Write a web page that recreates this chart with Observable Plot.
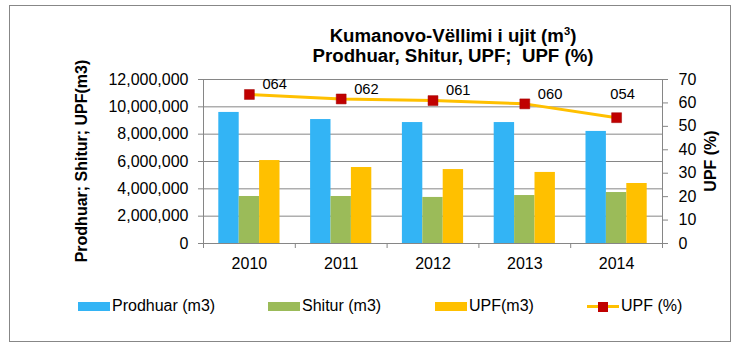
<!DOCTYPE html>
<html>
<head>
<meta charset="utf-8">
<script src="https://cdn.jsdelivr.net/npm/d3@7"></script>
<script src="https://cdn.jsdelivr.net/npm/@observablehq/plot@0.6"></script>
<style>
  html, body { margin: 0; padding: 0; background: #fff; }
  #wrap { position: relative; width: 749px; height: 352px; overflow: hidden; font-family: "Liberation Sans", Arial, sans-serif; color: #000; }
  #wrap svg { position: absolute; left: 0; top: 0; }
  .abs { position: absolute; white-space: pre; }
  #frame { left: 9px; top: 5px; width: 720px; height: 335px; border: 1px solid #878787; }
  #title { left: 153px; width: 600px; top: 26px; text-align: center; font-weight: bold; font-size: 18.67px; line-height: 20px; }
  #title sup { font-size: 0.6em; line-height: 0; vertical-align: 0.65em; }
  .ytitle { font-weight: bold; font-size: 16px; line-height: 18px; transform: translate(-50%, -50%) rotate(-90deg); }
  .sw { position: absolute; height: 9px; width: 32px; }
  .lt { position: absolute; font-size: 16px; line-height: 20px; white-space: pre; }
</style>
</head>
<body>
<div id="wrap"></div>
<script>
// ---- data ----
const years = ["2010", "2011", "2012", "2013", "2014"];
const prodhuar = [9590000, 9070000, 8850000, 8850000, 8200000];
const shitur = [3440000, 3440000, 3370000, 3510000, 3730000];
const upfM3 = [6070000, 5560000, 5410000, 5200000, 4390000];
const upfPct = [63.6, 61.7, 61.0, 59.6, 53.7];
const seriesNames = ["Prodhuar (m3)", "Shitur (m3)", "UPF(m3)"];
const seriesColors = ["#33B4F5", "#9BBB59", "#FFC000"];
const lineName = "UPF (%)";
const lineColor = "#FFC000";
const markerColor = "#C00000";
const leftTicks = [0, 2000000, 4000000, 6000000, 8000000, 10000000, 12000000];
const rightTicks = [0, 10, 20, 30, 40, 50, 60, 70];
const titleLine1 = "Kumanovo-Vëllimi i ujit (m<sup>3</sup>)";
const titleLine2 = "Prodhuar, Shitur, UPF;  UPF (%)";
const leftAxisTitle = "Prodhuar; Shitur; UPF(m3)";
const rightAxisTitle = "UPF (%)";

// ---- build tables ----
const Y_MAX = d3.max(leftTicks), P_MAX = d3.max(rightTicks);
const toLeft = p => p * Y_MAX / P_MAX;
const bars = [];
[prodhuar, shitur, upfM3].forEach((vals, k) =>
  vals.forEach((v, i) => bars.push({ i, k, series: seriesNames[k], value: v })));
const pts = years.map((y, i) => ({ i, year: y, pct: upfPct[i] }));
const nS = seriesNames.length;
const groupStart = 1 / 6, barW = (2 / 3) / nS;
const gridColor = "#868686";
const fmtPct = v => String(Math.round(v)).padStart(3, "0");
const lastI = years.length - 1;

const chart = Plot.plot({
  width: 749, height: 352,
  marginLeft: 203, marginRight: 87, marginTop: 79, marginBottom: 109,
  x: { domain: [0, years.length], axis: null },
  y: { domain: [0, Y_MAX], axis: null },
  color: { domain: seriesNames, range: seriesColors },
  style: { fontFamily: "'Liberation Sans', Arial, sans-serif", fontSize: "16px", color: "#000", background: "transparent" },
  marks: [
    Plot.gridY({ ticks: leftTicks, stroke: gridColor, strokeOpacity: 1 }),
    Plot.rectY(bars, {
      x1: d => d.i + groupStart + d.k * barW,
      x2: d => d.i + groupStart + (d.k + 1) * barW,
      y1: 0, y2: "value", fill: "series"
    }),
    Plot.ruleX([0, years.length], { stroke: gridColor }),
    Plot.ruleY([0], { stroke: gridColor }),
    Plot.axisY({ anchor: "left", ticks: leftTicks, tickFormat: d3.format(","), tickSize: 5, tickPadding: 10, label: null, stroke: gridColor, fill: "#000" }),
    Plot.axisY({ anchor: "right", ticks: rightTicks.map(toLeft), tickFormat: d => String(Math.round(d * P_MAX / Y_MAX)), tickSize: 5, tickPadding: 11, label: null, stroke: gridColor, fill: "#000" }),
    Plot.axisX({ ticks: d3.range(years.length + 1), tickFormat: () => "", tickSize: 5, label: null, stroke: gridColor }),
    Plot.axisX({ ticks: years.map((_, i) => i + 0.5), tickFormat: v => years[Math.floor(v)], tickSize: 0, tickPadding: 14, label: null, fill: "#000" }),
    Plot.line(pts, { x: d => d.i + 0.5, y: d => toLeft(d.pct), stroke: lineColor, strokeWidth: 3 }),
    Plot.dot(pts, { x: d => d.i + 0.5, y: d => toLeft(d.pct), symbol: "square", r: 5.6, fill: markerColor, stroke: "#A00000", strokeWidth: 0.5 }),
    Plot.text(pts.filter(d => d.i !== lastI), { x: d => d.i + 0.5, y: d => toLeft(d.pct), text: d => fmtPct(d.pct), dx: 13, dy: -10, textAnchor: "start", fontSize: 14.7, fill: "#000" }),
    Plot.text(pts.filter(d => d.i === lastI), { x: d => d.i + 0.5, y: d => toLeft(d.pct), text: d => fmtPct(d.pct), dx: 6, dy: -23, textAnchor: "middle", fontSize: 14.7, fill: "#000" })
  ]
});

const wrap = document.getElementById("wrap");
wrap.appendChild(chart);

function addDiv(cls, css, html) {
  const el = document.createElement("div");
  el.className = cls;
  Object.assign(el.style, css);
  if (html != null) el.innerHTML = html;
  wrap.appendChild(el);
  return el;
}
addDiv("abs", {}, null).id = "frame";
addDiv("abs", {}, titleLine1 + "\n" + titleLine2).id = "title";
addDiv("abs ytitle", { left: "82px", top: "161px" }).textContent = leftAxisTitle;
addDiv("abs ytitle", { left: "711px", top: "161px" }).textContent = rightAxisTitle;

// legend
const legendX = [78, 268, 435];
seriesNames.forEach((name, k) => {
  addDiv("sw", { left: legendX[k] + "px", top: "302px", background: seriesColors[k] });
  addDiv("lt", { left: (legendX[k] + 34) + "px", top: "296px" }).textContent = name;
});
addDiv("sw", { left: "587px", top: "305px", height: "3px", width: "32px", background: lineColor });
addDiv("sw", { left: "598px", top: "302px", height: "10px", width: "10px", background: markerColor });
addDiv("lt", { left: "621px", top: "296px" }).textContent = lineName;
</script>
</body>
</html>
